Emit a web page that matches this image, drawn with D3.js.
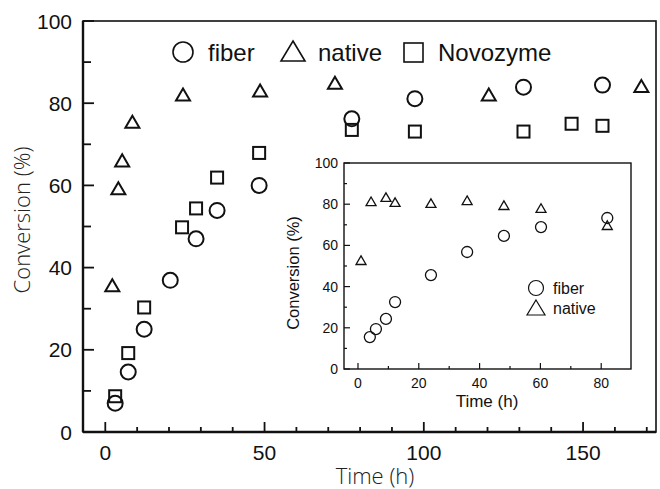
<!DOCTYPE html>
<html><head><meta charset="utf-8">
<script src="https://cdn.jsdelivr.net/npm/d3@7"></script>
<style>body{margin:0;background:#fff}svg{display:block}</style>
</head><body>
<script>
// Main chart data
const fiberX = [3.1, 7.2, 12.2, 20.4, 28.5, 35.1, 48.3, 77.4, 97.2, 131.3, 156.1];
const fiberY = [7.0, 14.6, 25.0, 36.9, 47.0, 53.9, 60.0, 76.2, 81.1, 83.9, 84.4];
const nativeX = [2.2, 4.1, 5.3, 8.5, 24.4, 48.6, 72.1, 120.4, 168.3];
const nativeY = [35.4, 59.0, 65.8, 75.2, 81.8, 82.8, 84.7, 81.8, 83.9];
const novoX = [3.1, 7.2, 12.2, 24.1, 28.5, 35.1, 48.3, 77.4, 97.2, 131.3, 146.4, 156.1];
const novoY = [8.7, 19.2, 30.3, 49.8, 54.4, 61.9, 67.9, 73.5, 73.1, 73.1, 75.0, 74.5];
// Inset data
const inFiberX = [3.9, 5.9, 9.2, 12.2, 24.0, 35.9, 48.0, 60.2, 82.0];
const inFiberY = [15.5, 19.4, 24.3, 32.5, 45.6, 56.8, 64.6, 68.9, 73.3];
const inNativeX = [1.0, 4.3, 9.2, 12.2, 24.0, 35.9, 48.0, 60.2, 82.0];
const inNativeY = [52.4, 81.0, 83.0, 80.6, 80.1, 81.5, 79.1, 77.7, 69.4];
const xTicksMain = [0, 50, 100, 150];
const yTicksMain = [0, 20, 40, 60, 80, 100];
const xTicksInset = [0, 20, 40, 60, 80];
const yTicksInset = [0, 20, 40, 60, 80, 100];
const legendMain = ["fiber", "native", "Novozyme"];
const legendInset = ["fiber", "native"];

const W = 660, H = 489;
const svg = d3.select("body").append("svg").attr("width", W).attr("height", H);
const tickFont = "'Liberation Sans', Arial, sans-serif";

// ---------- main ----------
const x = d3.scaleLinear().domain([-7, 172.9]).range([83, 656]);
const y = d3.scaleLinear().domain([0, 100]).range([432, 21]);

svg.append("rect").attr("x", 83).attr("y", 21).attr("width", 573).attr("height", 411)
  .attr("fill", "none").attr("stroke", "#111").attr("stroke-width", 1.6);
svg.append("line").attr("x1", 83).attr("x2", 656).attr("y1", 432).attr("y2", 432).attr("stroke", "#111").attr("stroke-width", 2.4);
svg.append("line").attr("x1", 83).attr("x2", 83).attr("y1", 21).attr("y2", 432).attr("stroke", "#111").attr("stroke-width", 2.4);

const gx = svg.append("g").attr("transform", "translate(0,432)");
const xMinor = d3.range(0, 171, 10).filter(v => v % 50 !== 0);
gx.selectAll(".mn").data(xMinor).join("line").attr("x1", d => x(d)).attr("x2", d => x(d))
  .attr("y1", 0).attr("y2", -5).attr("stroke", "#111").attr("stroke-width", 1.8);
gx.selectAll(".mj").data(xTicksMain).join("line").attr("x1", d => x(d)).attr("x2", d => x(d))
  .attr("y1", 0).attr("y2", -10).attr("stroke", "#111").attr("stroke-width", 1.8);
gx.selectAll("text").data(xTicksMain).join("text").attr("x", d => x(d)).attr("y", 28)
  .attr("text-anchor", "middle").attr("font-family", tickFont).attr("font-size", 21).attr("fill", "#111").text(d => d);

const gy = svg.append("g").attr("transform", "translate(83,0)");
const yMinor = d3.range(10, 100, 20);
gy.selectAll(".mn").data(yMinor).join("line").attr("x1", 0).attr("x2", 8)
  .attr("y1", d => y(d)).attr("y2", d => y(d)).attr("stroke", "#111").attr("stroke-width", 1.8);
gy.selectAll(".mj").data(yTicksMain).join("line").attr("x1", 0).attr("x2", 11)
  .attr("y1", d => y(d)).attr("y2", d => y(d)).attr("stroke", "#111").attr("stroke-width", 1.8);
gy.selectAll("text").data(yTicksMain).join("text").attr("x", -11).attr("y", d => y(d)).attr("dy", "0.36em")
  .attr("text-anchor", "end").attr("font-family", tickFont).attr("font-size", 21).attr("fill", "#111").text(d => d);

svg.append("text").attr("transform", "translate(30,220) rotate(-90)").attr("text-anchor", "middle")
  .attr("font-family", "'Open Sans', sans-serif").attr("font-weight", 300).attr("font-size", 22).attr("fill", "#222")
  .text("Conversion (%)");
svg.append("text").attr("x", 375).attr("y", 484).attr("text-anchor", "middle")
  .attr("font-family", "'Open Sans', sans-serif").attr("font-weight", 300).attr("font-size", 22).attr("fill", "#222")
  .text("Time (h)");

function circles(g, xs, ys, sx, sy, r, sw) {
  g.append("g").selectAll("circle").data(xs).join("circle")
    .attr("cx", d => sx(d)).attr("cy", (d, i) => sy(ys[i])).attr("r", r)
    .attr("fill", "none").attr("stroke", "#111").attr("stroke-width", sw);
}
function tris(g, xs, ys, sx, sy, s, sw) {
  const h = s * 0.86;
  g.append("g").selectAll("path").data(xs).join("path")
    .attr("d", (d, i) => { const cx = sx(d), cy = sy(ys[i]);
      return `M${cx},${cy - h * 0.6}L${cx + s / 2},${cy + h * 0.4}L${cx - s / 2},${cy + h * 0.4}Z`; })
    .attr("fill", "none").attr("stroke", "#111").attr("stroke-width", sw).attr("stroke-linejoin", "miter");
}
function squares(g, xs, ys, sx, sy, s, sw) {
  g.append("g").selectAll("rect").data(xs).join("rect")
    .attr("x", d => sx(d) - s / 2).attr("y", (d, i) => sy(ys[i]) - s / 2).attr("width", s).attr("height", s)
    .attr("fill", "none").attr("stroke", "#111").attr("stroke-width", sw);
}

// ---------- inset ----------
const xi = d3.scaleLinear().domain([-4.6, 89.8]).range([344, 631]);
const yi = d3.scaleLinear().domain([0, 100]).range([369, 163]);
svg.append("rect").attr("x", 344).attr("y", 163).attr("width", 287).attr("height", 206)
  .attr("fill", "#fff").attr("stroke", "#111").attr("stroke-width", 1.4);
const ix = svg.append("g").attr("transform", "translate(0,369)");
ix.selectAll(".mn").data(d3.range(10, 90, 20)).join("line").attr("x1", d => xi(d)).attr("x2", d => xi(d))
  .attr("y1", 0).attr("y2", -3).attr("stroke", "#111").attr("stroke-width", 1.2);
ix.selectAll(".mj").data(xTicksInset).join("line").attr("x1", d => xi(d)).attr("x2", d => xi(d))
  .attr("y1", 0).attr("y2", -6).attr("stroke", "#111").attr("stroke-width", 1.2);
ix.selectAll("text").data(xTicksInset).join("text").attr("x", d => xi(d)).attr("y", 19)
  .attr("text-anchor", "middle").attr("font-family", tickFont).attr("font-size", 14).attr("fill", "#111").text(d => d);
const iy = svg.append("g").attr("transform", "translate(344,0)");
iy.selectAll(".mn").data(d3.range(10, 100, 20)).join("line").attr("x1", 0).attr("x2", 3)
  .attr("y1", d => yi(d)).attr("y2", d => yi(d)).attr("stroke", "#111").attr("stroke-width", 1.2);
iy.selectAll(".mj").data(yTicksInset).join("line").attr("x1", 0).attr("x2", 6)
  .attr("y1", d => yi(d)).attr("y2", d => yi(d)).attr("stroke", "#111").attr("stroke-width", 1.2);
iy.selectAll("text").data(yTicksInset).join("text").attr("x", -6).attr("y", d => yi(d)).attr("dy", "0.36em")
  .attr("text-anchor", "end").attr("font-family", tickFont).attr("font-size", 14).attr("fill", "#111").text(d => d);
svg.append("text").attr("transform", "translate(299,273) rotate(-90)").attr("text-anchor", "middle")
  .attr("font-family", tickFont).attr("font-size", 16.5).attr("fill", "#111").text("Conversion  (%)");
svg.append("text").attr("x", 487).attr("y", 407).attr("text-anchor", "middle")
  .attr("font-family", tickFont).attr("font-size", 17).attr("fill", "#111").text("Time  (h)");

circles(svg, inFiberX, inFiberY, xi, yi, 5.5, 1.3);
tris(svg, inNativeX, inNativeY, xi, yi, 10, 1.3);

// inset legend
const il = svg.append("g");
il.append("circle").attr("cx", 536).attr("cy", 288).attr("r", 7.5).attr("fill", "none").attr("stroke", "#111").attr("stroke-width", 1.2);
il.append("path").attr("d", "M536,300L545,315L527,315Z").attr("fill", "none").attr("stroke", "#111").attr("stroke-width", 1.2);
il.selectAll("text").data(legendInset).join("text").attr("x", 553).attr("y", (d, i) => 294 + i * 20)
  .attr("font-family", tickFont).attr("font-size", 16).attr("fill", "#111").text(d => d);

// main markers
circles(svg, fiberX, fiberY, x, y, 7.5, 2);
tris(svg, nativeX, nativeY, x, y, 14, 2);
squares(svg, novoX, novoY, x, y, 12, 2);

// main legend
const ml = svg.append("g");
ml.append("circle").attr("cx", 183).attr("cy", 52).attr("r", 10).attr("fill", "none").attr("stroke", "#111").attr("stroke-width", 1.6);
ml.append("path").attr("d", "M293,41L305,61L281,61Z").attr("fill", "none").attr("stroke", "#111").attr("stroke-width", 1.6);
ml.append("rect").attr("x", 404).attr("y", 43).attr("width", 19).attr("height", 19).attr("fill", "none").attr("stroke", "#111").attr("stroke-width", 1.6);
ml.selectAll("text").data(legendMain).join("text").attr("x", (d, i) => [208, 318, 438][i]).attr("y", 61)
  .attr("font-family", tickFont).attr("font-size", 24).attr("fill", "#111").text(d => d);
</script>
</body></html>
